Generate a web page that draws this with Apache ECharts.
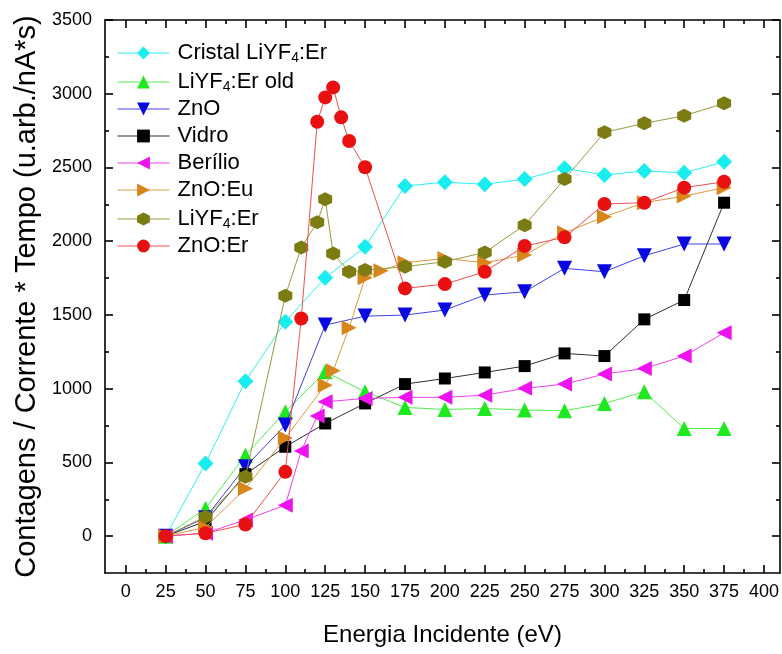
<!DOCTYPE html>
<html>
<head>
<meta charset="utf-8">
<script src="https://cdn.jsdelivr.net/npm/echarts@6/dist/echarts.min.js"></script>
<style>
html,body{margin:0;padding:0;background:#fff;}
#chart{width:782px;height:654px;}
</style>
</head>
<body>
<div id="chart"></div>
<script>
// ---- data ----
const seriesNames = ['Cristal LiYF{sub|4}:Er', 'LiYF{sub|4}:Er old', 'ZnO', 'Vidro', 'Berílio', 'ZnO:Eu', 'LiYF{sub|4}:Er', 'ZnO:Er'];
const legendIds = ['Cristal LiYF4:Er', 'LiYF4:Er old', 'ZnO', 'Vidro', 'Berílio', 'ZnO:Eu', 'LiYF4:Er', 'ZnO:Er'];

const energyCristal = [25, 50, 75, 100, 125, 150, 175, 200, 225, 250, 275, 300, 325, 350, 375];
const valuesCristal = [0, 493, 1051, 1454, 1752, 1962, 2374, 2400, 2386, 2421, 2494, 2449, 2476, 2464, 2538];

const energyOld = [25, 50, 75, 100, 125, 150, 175, 200, 225, 250, 275, 300, 325, 350, 375];
const valuesOld = [0, 188, 549, 843, 1115, 979, 873, 859, 866, 855, 850, 900, 979, 730, 730];

const energyZnO = [25, 50, 75, 100, 125, 150, 175, 200, 225, 250, 275, 300, 325, 350, 375];
const valuesZnO = [0, 125, 470, 753, 1431, 1492, 1499, 1533, 1635, 1657, 1816, 1793, 1901, 1981, 1981];

const energyVidro = [25, 50, 75, 100, 125, 150, 175, 200, 225, 250, 275, 300, 325, 350, 375];
const valuesVidro = [0, 100, 420, 606, 764, 900, 1031, 1069, 1110, 1153, 1239, 1221, 1470, 1601, 2261];

const energyBerilio = [25, 50, 75, 100, 110, 120, 125, 150, 175, 200, 225, 250, 275, 300, 325, 350, 375];
const valuesBerilio = [0, 20, 110, 210, 578, 814, 911, 934, 941, 941, 956, 1002, 1031, 1099, 1137, 1221, 1379];

const energyZnOEu = [25, 50, 75, 100, 125, 130, 140, 150, 160, 175, 200, 225, 250, 275, 300, 325, 350, 375];
const valuesZnOEu = [0, 60, 323, 665, 1024, 1121, 1413, 1752, 1800, 1854, 1883, 1854, 1906, 2057, 2166, 2261, 2306, 2363];

const energyLiYF4Er = [25, 50, 75, 100, 110, 120, 125, 130, 140, 150, 175, 200, 225, 250, 275, 300, 325, 350, 375];
const valuesLiYF4Er = [0, 131, 402, 1630, 1958, 2128, 2284, 1917, 1793, 1804, 1827, 1861, 1924, 2109, 2421, 2738, 2799, 2851, 2935];

const energyZnOEr = [25, 50, 75, 100, 110, 120, 125, 130, 135, 140, 150, 175, 200, 225, 250, 275, 300, 325, 350, 375];
const valuesZnOEr = [0, 20, 79, 436, 1476, 2810, 2975, 3043, 2840, 2679, 2501, 1680, 1709, 1793, 1967, 2026, 2252, 2261, 2363, 2403];

const xMajorTicks = [0, 25, 50, 75, 100, 125, 150, 175, 200, 225, 250, 275, 300, 325, 350, 375, 400];
const xMinorTicks = [12.5, 37.5, 62.5, 87.5, 112.5, 137.5, 162.5, 187.5, 212.5, 237.5, 262.5, 287.5, 312.5, 337.5, 362.5, 387.5];
const yMajorTicks = [0, 500, 1000, 1500, 2000, 2500, 3000, 3500];
const yMinorTicks = [250, 750, 1250, 1750, 2250, 2750, 3250];

// ---- chart ----
const zip = (xs, ys) => xs.map((x, i) => [x, ys[i]]);
const hexagon = 'path://M50,0 L93.3,25 L93.3,75 L50,100 L6.7,75 L6.7,25 Z';
const FONT = 'Liberation Sans, Arial, sans-serif';

const styles = [
  {color: '#18eef0', line: '#30f0f0', symbol: 'diamond', size: 16, rot: 0},
  {color: '#1ee81e', line: '#50f050', symbol: 'triangle', size: 15, rot: 0},
  {color: '#0808e0', line: '#4040e8', symbol: 'triangle', size: 15, rot: 180},
  {color: '#000000', line: '#303030', symbol: 'rect', size: 12, rot: 0},
  {color: '#ee12ee', line: '#f040f0', symbol: 'triangle', size: 15, rot: 90},
  {color: '#d8861a', line: '#dc9a40', symbol: 'triangle', size: 15, rot: -90},
  {color: '#7c7c12', line: '#9a9a40', symbol: hexagon, size: 14, rot: 0},
  {color: '#e81010', line: '#f05050', symbol: 'circle', size: 14, rot: 0}
];
const dataSets = [
  zip(energyCristal, valuesCristal),
  zip(energyOld, valuesOld),
  zip(energyZnO, valuesZnO),
  zip(energyVidro, valuesVidro),
  zip(energyBerilio, valuesBerilio),
  zip(energyZnOEu, valuesZnOEu),
  zip(energyLiYF4Er, valuesLiYF4Er),
  zip(energyZnOEr, valuesZnOEr)
];

const series = legendIds.map((name, i) => ({
  name: name,
  type: 'line',
  xAxisIndex: 0,
  yAxisIndex: 0,
  data: dataSets[i],
  symbol: styles[i].symbol,
  symbolSize: styles[i].size,
  symbolRotate: styles[i].rot,
  itemStyle: {color: styles[i].color},
  lineStyle: {color: styles[i].line, width: 1},
  showSymbol: true,
  animation: false,
  z: 2 + i
}));

const XMIN = -13, XMAX = 410, YMIN = -250, YMAX = 3500;
const axisLine = {show: true, onZero: false, lineStyle: {color: '#000', width: 1.6}};
const noLine = {show: false, onZero: false};
const tickStyle = {color: '#000', width: 1.6};
const plain = (v) => String(v);

const chart = echarts.init(document.getElementById('chart'), null, {renderer: 'canvas'});
chart.setOption({
  backgroundColor: '#ffffff',
  animation: false,
  grid: {left: 105, top: 20, right: 2, bottom: 81, containLabel: false},
  legend: {
    orient: 'vertical',
    left: 112,
    top: 34,
    itemWidth: 52,
    itemHeight: 16,
    itemGap: 3,
    data: legendIds,
    formatter: (name) => seriesNames[legendIds.indexOf(name)],
    textStyle: {
      fontFamily: FONT, fontSize: 22, color: '#000', lineHeight: 24,
      padding: [0, 0, 0, 3],
      rich: {sub: {fontFamily: FONT, fontSize: 14, lineHeight: 24, verticalAlign: 'bottom', padding: [12, 0, 0, 0]}}
    },
    lineStyle: {width: 1}
  },
  xAxis: [
    {
      type: 'value', min: XMIN, max: XMAX, position: 'bottom',
      name: 'Energia Incidente (eV)', nameLocation: 'middle', nameGap: 50,
      nameTextStyle: {fontFamily: FONT, fontSize: 24, color: '#000'},
      axisLine: axisLine,
      axisTick: {show: true, inside: true, length: 8, customValues: xMajorTicks, lineStyle: tickStyle},
      axisLabel: {show: true, customValues: xMajorTicks, formatter: plain, margin: 10, fontFamily: FONT, fontSize: 18, color: '#000'},
      splitLine: {show: false}
    },
    {
      type: 'value', min: XMIN, max: XMAX, position: 'bottom',
      axisLine: noLine,
      axisTick: {show: true, inside: true, length: 4, customValues: xMinorTicks, lineStyle: tickStyle},
      axisLabel: {show: false},
      splitLine: {show: false}
    },
    {
      type: 'value', min: XMIN, max: XMAX, position: 'top',
      axisLine: axisLine,
      axisTick: {show: true, inside: true, length: 8, customValues: xMajorTicks, lineStyle: tickStyle},
      axisLabel: {show: false},
      splitLine: {show: false}
    },
    {
      type: 'value', min: XMIN, max: XMAX, position: 'top',
      axisLine: noLine,
      axisTick: {show: true, inside: true, length: 4, customValues: xMinorTicks, lineStyle: tickStyle},
      axisLabel: {show: false},
      splitLine: {show: false}
    }
  ],
  yAxis: [
    {
      type: 'value', min: YMIN, max: YMAX, position: 'left',
      name: 'Contagens / Corrente * Tempo (u.arb./nA*s)', nameLocation: 'middle', nameGap: 60, nameRotate: 90,
      nameTextStyle: {fontFamily: FONT, fontSize: 29, color: '#000'},
      axisLine: axisLine,
      axisTick: {show: true, inside: true, length: 8, customValues: yMajorTicks, lineStyle: tickStyle},
      axisLabel: {show: true, customValues: yMajorTicks, formatter: plain, margin: 13, fontFamily: FONT, fontSize: 18, color: '#000'},
      splitLine: {show: false}
    },
    {
      type: 'value', min: YMIN, max: YMAX, position: 'left',
      axisLine: noLine,
      axisTick: {show: true, inside: true, length: 4, customValues: yMinorTicks, lineStyle: tickStyle},
      axisLabel: {show: false},
      splitLine: {show: false}
    },
    {
      type: 'value', min: YMIN, max: YMAX, position: 'right',
      axisLine: axisLine,
      axisTick: {show: true, inside: true, length: 8, customValues: yMajorTicks, lineStyle: tickStyle},
      axisLabel: {show: false},
      splitLine: {show: false}
    },
    {
      type: 'value', min: YMIN, max: YMAX, position: 'right',
      axisLine: noLine,
      axisTick: {show: true, inside: true, length: 4, customValues: yMinorTicks, lineStyle: tickStyle},
      axisLabel: {show: false},
      splitLine: {show: false}
    }
  ],
  series: series
});
</script>
</body>
</html>
